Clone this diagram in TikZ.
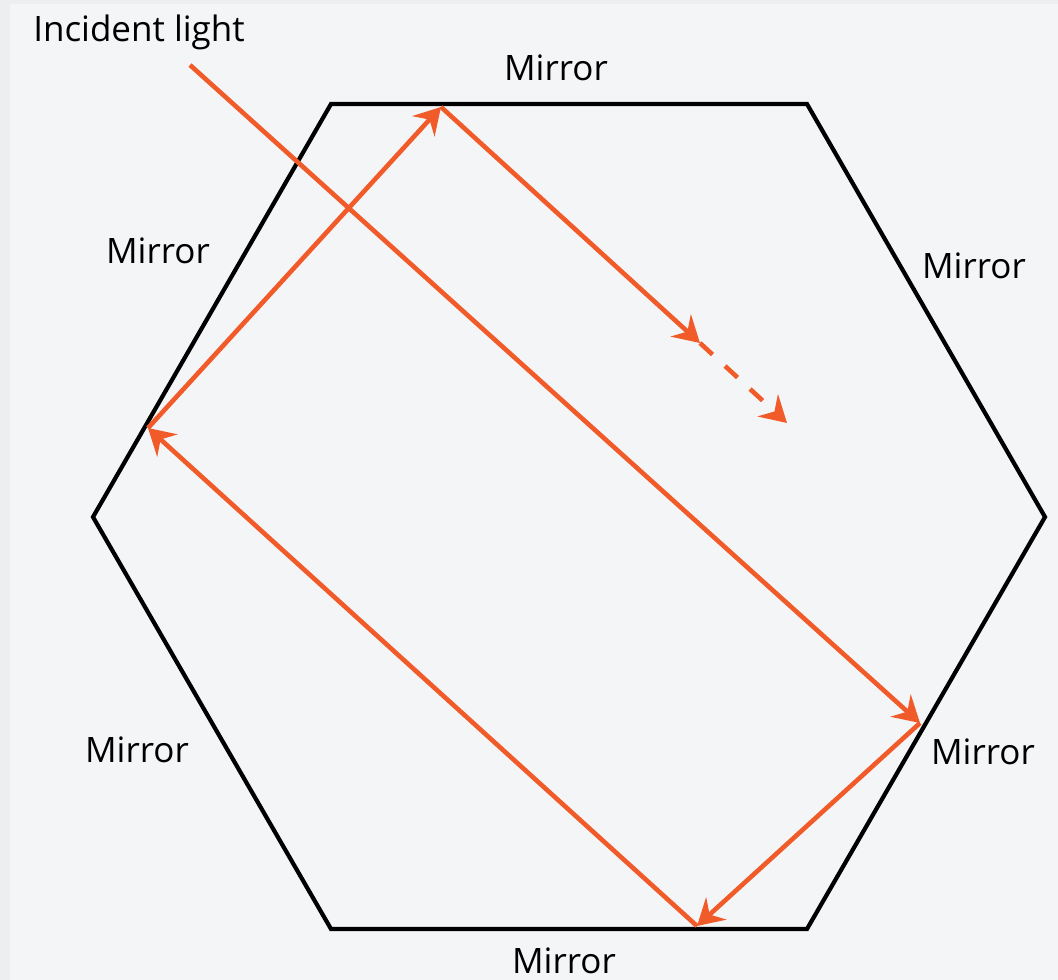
\documentclass[tikz,border=0pt]{standalone}
\usepackage{fontspec}
\setmainfont{Open Sans}
\usetikzlibrary{arrows.meta}
\definecolor{bgout}{HTML}{EDEEF0}
\definecolor{bgin}{HTML}{F4F5F7}
\definecolor{ray}{HTML}{F15A29}
\tikzset{
  mirror/.style={draw=black, line width=4.2pt, line join=miter},
  beam/.style={draw=ray, line width=4.6pt, -{Stealth[length=26pt,width=30pt,inset=9pt]}},
  dbeam/.style={beam, dash pattern=on 17pt off 17pt},
  lbl/.style={font=\fontsize{35}{40}\selectfont, text=black, inner sep=0pt}
}
\begin{document}
\begin{tikzpicture}[x=1pt,y=-1pt]
\fill[bgout] (0,0) rectangle (1058,980);
\fill[bgin] (10,4) rectangle (1058,980);
\useasboundingbox (0,0) rectangle (1058,980);
% hexagon
\coordinate (h1) at (331,104);
\coordinate (h2) at (807,104);
\coordinate (h3) at (1045,517);
\coordinate (h4) at (807,929);
\coordinate (h5) at (331,929);
\coordinate (h6) at (93,517);
\draw[mirror] (h1) -- (h2) -- (h3) -- (h4) -- (h5) -- (h6) -- cycle;
% ray points
\coordinate (p0) at (190,65);
\coordinate (p1) at (920,723);
\coordinate (p2) at (697,926);
\coordinate (p3) at (148,428);
\coordinate (p4) at (441,107);
\coordinate (p5) at (700,343);
\coordinate (p6) at (787,423);
\draw[beam] (p0) -- (p1);
\draw[beam] (p1) -- (p2);
\draw[beam] (p2) -- (p3);
\draw[beam] (p3) -- (p4);
\draw[beam] (p4) -- (p5);
\draw[dbeam] (p5) -- (p6);
% labels
\node[lbl] (inc) at (139,32) {Incident light};
\node[lbl] (mt) at (556,68) {Mirror};
\node[lbl] (mlt) at (158,251) {Mirror};
\node[lbl] (mrt) at (974,266) {Mirror};
\node[lbl] (mlb) at (137,750) {Mirror};
\node[lbl] (mrb) at (983,752) {Mirror};
\node[lbl] (mb) at (564,961) {Mirror};
\end{tikzpicture}
\end{document}
